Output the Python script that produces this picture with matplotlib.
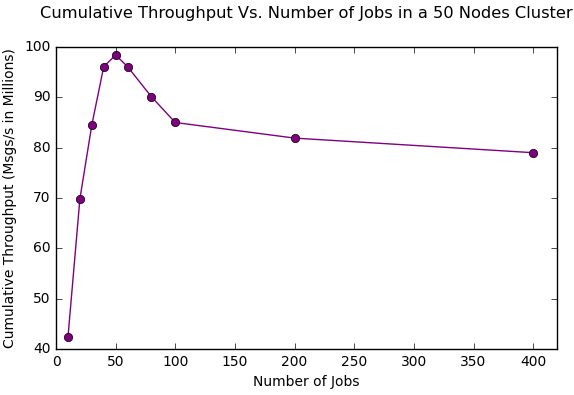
import matplotlib
matplotlib.use("Agg")
import matplotlib.pyplot as plt

plt.style.use("classic")
plt.rcParams["font.size"] = 10

jobs = [10, 20, 30, 40, 50, 60, 80, 100, 200, 400]
throughput = [42.3, 69.8, 84.5, 96.1, 98.4, 96.1, 90.1, 85.0, 81.9, 79.0]

fig = plt.figure(figsize=(5.74, 3.95), dpi=100)
ax = fig.add_axes([0.0976, 0.1165, 0.8728, 0.7645])
ax.plot(jobs, throughput, color="purple", marker="o", markerfacecolor="purple",
        markeredgecolor="black", linewidth=1)
ax.set_xlim(0, 420)
ax.set_ylim(40, 100)
ax.set_title("Cumulative Throughput Vs. Number of Jobs in a 50 Nodes Cluster",
             y=1.073, fontsize=11.7)
ax.set_xlabel("Number of Jobs")
ax.set_ylabel("Cumulative Throughput (Msgs/s in Millions)")
fig.savefig("out.png", dpi=100, facecolor="white")
